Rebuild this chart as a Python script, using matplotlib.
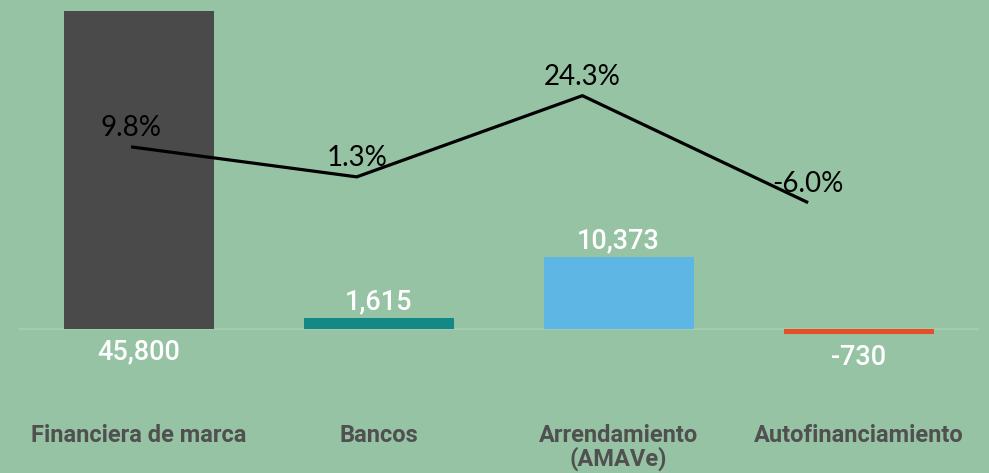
import matplotlib
matplotlib.use("Agg")
import matplotlib.pyplot as plt

categorias = ["Financiera de marca", "Bancos", "Arrendamiento\n(AMAVe)", "Autofinanciamiento"]
unidades = [45800, 1615, 10373, -730]
variacion = [9.8, 1.3, 24.3, -6.0]
colores = ["#4a4a4a", "#138886", "#5eb6e4", "#e44f26"]

fondo = "#96c3a3"
W, H = 989, 473

fig = plt.figure(figsize=(W / 100, H / 100), dpi=100, facecolor=fondo)

# axes in pixel terms: x 18.5..978.5, y 0..400 (top)
pos = [18.5 / W, (H - 400) / H, 960 / W, 400 / H]
ax = fig.add_axes(pos)
ax.set_facecolor(fondo)
x = range(len(categorias))
ax.bar(x, unidades, width=0.625, color=colores)
ax.set_xlim(-0.5, len(categorias) - 0.5)
ax.set_ylim(-10230, 47400)
ax.axhline(0, color="#a6cfb2", lw=1.2, zorder=0)
for s in ax.spines.values():
    s.set_visible(False)
ax.set_yticks([])
ax.set_xticks(list(x))
ax.set_xticklabels(categorias, family=["Liberation Sans Narrow", "Roboto"],
                   fontsize=17, color="#505050", weight="bold", linespacing=1.0)
ax.tick_params(axis="x", length=0, pad=17)

for i, v in enumerate(unidades):
    if i == 0 or v < 0:
        ax.annotate(f"{v:,}", (i, min(v, 0) if v < 0 else 0), xytext=(0, -23),
                    textcoords="offset pixels", ha="center", va="center",
                    color="white", fontsize=19.5, family="Roboto", weight="medium")
    else:
        ax.annotate(f"{v:,}", (i, v), xytext=(0, 16), textcoords="offset pixels",
                    ha="center", va="center", color="white", fontsize=19.5,
                    family="Roboto", weight="medium")

# linea de variacion en su propio eje
ax2 = fig.add_axes(pos)
ax2.patch.set_alpha(0)
ax2.plot(x, variacion, color="black", lw=2.3, solid_capstyle="butt")
ax2.set_xlim(-0.4985, 3.755)
ax2.set_ylim(-61.9, 51.4)
ax2.axis("off")
for i, v in enumerate(variacion):
    ax2.annotate(f"{v:.1f}%", (i, v), xytext=(0, 19), textcoords="offset pixels",
                 ha="center", va="center", color="black", fontsize=20, family="Lato")

fig.savefig("out.png", dpi=100, facecolor=fondo)
